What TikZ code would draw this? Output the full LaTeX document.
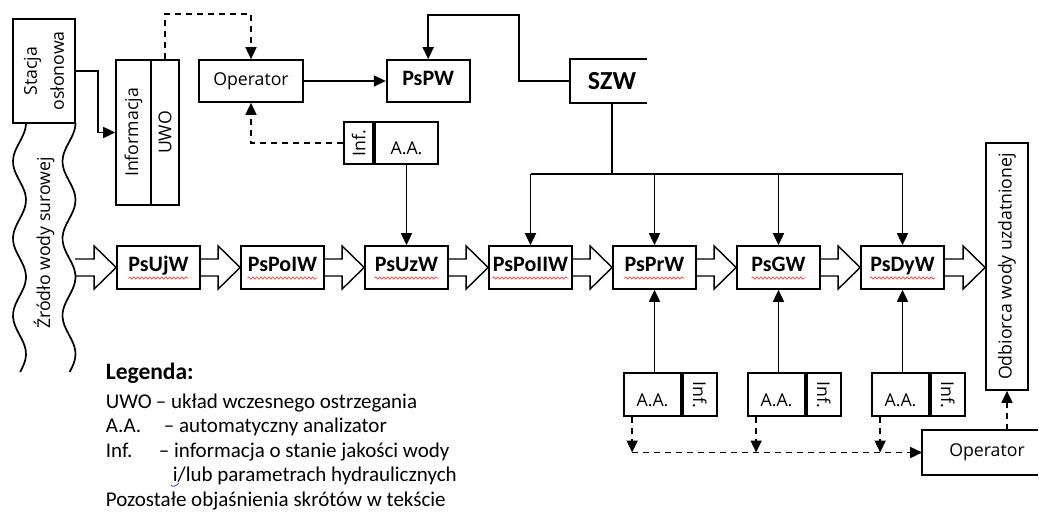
\documentclass[tikz,border=0pt]{standalone}
\usepackage{fontspec}
\setmainfont{Carlito}
\newfontfamily\diagfont{Open Sans}
\usetikzlibrary{positioning}
\usetikzlibrary{arrows.meta}
\usetikzlibrary{calc}
\usetikzlibrary{decorations.pathmorphing}

\newcommand{\blockarrow}[2]{\draw[flow] ($(#1)+(0,-8.5)$) -- ($(#2)+(-22,-8.5)$) -- ($(#2)+(-22,-21.5)$) -- (#2) -- ($(#2)+(-22,21.5)$) -- ($(#2)+(-22,8.5)$) -- ($(#1)+(0,8.5)$);}

\begin{document}
\begin{tikzpicture}[x=1pt,y=-1pt,>={Triangle[length=12pt,width=11pt]},line width=1.7pt,node distance=124pt,
	every node/.style={font=\diagfont\fontsize{17.7}{21}\selectfont},
	main node/.style={draw,minimum width=83pt,minimum height=43pt,inner sep=0pt,text height=14pt,text depth=5pt,font=\fontsize{22}{26}\selectfont\bfseries},
	box node/.style={draw,inner sep=0pt},
	dash line/.style={dash pattern=on 6pt off 5pt},
	flow/.style={line width=1.4pt,line join=miter},
	spell/.style={red!75,line width=0.7pt,decorate,decoration={snake,segment length=4pt,amplitude=1.1pt}},
	grammar/.style={blue!80,line width=0.8pt}]

	\useasboundingbox (0,0) rectangle (1039,513);

	% zrodlo i stacja oslonowa
	\node[box node,rotate=90,minimum width=104pt,minimum height=62pt,align=center,font=\diagfont\fontsize{17.7}{27}\selectfont] (stacja) at (44,71) {Stacja\\osłonowa};
	\draw plot[smooth,domain=123:372,samples=60] ({19.5+6.5*cos(4.6753*(\x-123))},\x);
	\draw plot[smooth,domain=123:372,samples=60] ({69+6.5*cos(4.6753*(\x-123))},\x);
	\node[rotate=90] (zrodlo) at (44,243) {Źródło wody surowej};

	% informacja / UWO
	\node[box node,rotate=90,minimum width=145pt,minimum height=35pt] (info) at (133.5,132.5) {Informacja};
	\node[box node,rotate=90,minimum width=145pt,minimum height=28pt] (uwo) at (165,132.5) {UWO};
	\draw[->] (stacja.south) -- ++(22,0) |- (info.north);

	% operator, PsPW, SZW
	\node[box node,minimum width=104pt,minimum height=42pt] (op1) at (251,81) {Operator};
	\node[main node,minimum height=42pt,right=82pt of op1] (pspw) {PsPW};
	\draw[->] (op1) -- (pspw);
	\draw[->,dash line] (uwo.east) -- ++(0,-45) -| (op1.north);

	\node[inner sep=0pt,minimum width=82pt,minimum height=42pt,font=\fontsize{26}{30}\selectfont\bfseries] (szw) at (612,81) {SZW};
	\draw (szw.north west) ++(77,0) -- (szw.north west) -- (szw.south west) -- ++(77,0);
	\draw[->] (szw.west) -- ++(-51,0) -- ++(0,-66) -| (pspw.north);

	\node[box node,minimum width=63pt,minimum height=42pt,text height=24pt,text depth=0pt] (aa1) at (406.5,143) {A.A.};
	\node[box node,rotate=90,minimum width=42pt,minimum height=29pt,anchor=south] (inf1) at (aa1.west) {Inf.};
	\draw[->,dash line] (inf1.north) -| (op1.south);

	% ciag technologiczny
	\node[main node] (ujw) at (158.5,267.5) {PsUjW};
	\node[main node,right of=ujw] (poiw) {PsPoIW};
	\node[main node,right of=poiw] (uzw) {PsUzW};
	\node[main node,right of=uzw] (poiiw) {PsPoIIW};
	\node[main node,right of=poiiw] (prw) {PsPrW};
	\node[main node,right of=prw] (gw) {PsGW};
	\node[main node,right of=gw] (dyw) {PsDyW};
	\node[box node,rotate=90,minimum width=247pt,minimum height=42pt] (odb) at (1007,266.5) {Odbiorca wody uzdatnionej};

	\foreach \n/\w in {ujw/60,poiw/70,uzw/64,poiiw/76,prw/60,gw/54,dyw/65}
		\draw[spell] ($(\n)+(-\w/2,10.5)$) -- ++(\w,0);

	\draw[->] (aa1) -- (uzw);
	\draw (szw.south) -- ++(0,71) coordinate (split);
	\draw (poiiw.north |- split) -- (dyw.north |- split);
	\foreach \n in {poiiw,prw,gw,dyw}
		\draw[->] (\n.north |- split) -- (\n.north);

	\coordinate (src) at (75,267.5);
	\coordinate (dst) at (odb.north |- dyw.east);
	\foreach \a/\b in {src/ujw.west,ujw.east/poiw.west,poiw.east/uzw.west,uzw.east/poiiw.west,poiiw.east/prw.west,prw.east/gw.west,gw.east/dyw.west,dyw.east/dst}
		\blockarrow{\a}{\b};

	% analizatory i operator
	\foreach \n/\i in {prw/2,gw/3,dyw/4}{
		\node[box node,minimum width=57pt,minimum height=43pt,text height=24pt,text depth=0pt] (aa\i) at ($(\n)+(-2,127)$) {A.A.};
		\node[box node,rotate=-90,minimum width=43pt,minimum height=34pt,anchor=south] (inf\i) at (aa\i.east) {Inf.};
		\draw[->] (\n.south |- aa\i.north) -- (\n.south);
		\coordinate (d\i) at ($(aa\i.south west)+(9,0)$);
	}
	\node[inner sep=0pt,minimum width=128pt,minimum height=43pt] (op2) at (987,452.5) {Operator};
	\draw (op2.north west) ++(116,0) -- (op2.north west) -- (op2.south west) -- ++(116,0);
	\foreach \i in {2,3,4}
		\draw[->,dash line] (d\i) -- (d\i |- op2.west);
	\draw[->,dash line] (d2 |- op2.west) -- (op2.west);
	\draw[->,dash line] (odb.west |- op2.north) -- (odb.west);

	% legenda
	\node[anchor=base west,inner sep=0pt,font=\fontsize{23.5}{27}\selectfont\bfseries] (legtitle) at (105,379) {Legenda:};
	\node[anchor=north west,inner sep=0pt,align=left,font=\fontsize{21}{24.5}\selectfont] (legend) at (105,393) {\makebox[50pt][l]{UWO}– układ wczesnego ostrzegania\\
		\makebox[58pt][l]{A.A.}– automatyczny analizator\\
		\makebox[53pt][l]{Inf.}– informacja o stanie jakości wody\\
		\hspace*{67pt}i/lub parametrach hydraulicznych\\
		Pozostałe objaśnienia skrótów w tekście};
	\draw[grammar] ($(legend.north west)+(66,92)$) to[out=-70,in=-130] ++(8,-2);
\end{tikzpicture}
\end{document}
